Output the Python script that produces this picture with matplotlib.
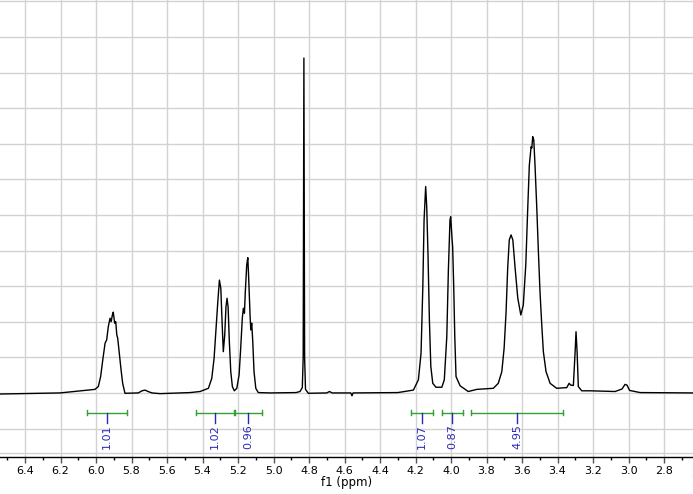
import numpy as np
import matplotlib
matplotlib.use("Agg")
import matplotlib.pyplot as plt
from matplotlib.ticker import MultipleLocator
from matplotlib.transforms import blended_transform_factory

# ---- data ----
ppm = [
    6.541, 6.203, 6.006, 5.987, 5.974, 5.962, 5.949, 5.940, 5.931, 5.921, 5.915,
    5.908, 5.903, 5.895, 5.889, 5.883, 5.878, 5.869, 5.859, 5.850, 5.837, 5.762,
    5.741, 5.724, 5.707, 5.685, 5.639,
    5.470, 5.414, 5.367, 5.348, 5.335, 5.324, 5.314, 5.305, 5.297, 5.290, 5.283,
    5.275, 5.268, 5.262, 5.256, 5.249, 5.241, 5.232, 5.221, 5.207, 5.194, 5.185,
    5.176, 5.170, 5.164, 5.159, 5.151, 5.145, 5.140, 5.132, 5.128, 5.123, 5.117,
    5.110, 5.100, 5.086, 5.020,
    4.873, 4.851, 4.838, 4.833, 4.829, 4.825, 4.820, 4.804,
    4.700, 4.685, 4.670, 4.565, 4.558, 4.552,
    4.300, 4.212, 4.184, 4.169, 4.159, 4.152, 4.143, 4.137, 4.130, 4.122, 4.114,
    4.103, 4.085, 4.052, 4.038, 4.024, 4.015, 4.006, 4.002, 3.994, 3.991, 3.985,
    3.979, 3.972, 3.949, 3.903, 3.855, 3.762, 3.734, 3.714, 3.701, 3.690, 3.681,
    3.672, 3.662, 3.652, 3.639, 3.624, 3.607, 3.593, 3.579, 3.568, 3.559, 3.549,
    3.545, 3.540, 3.534, 3.527, 3.517, 3.508, 3.499, 3.489, 3.480, 3.465, 3.442,
    3.405, 3.348, 3.335, 3.326, 3.311, 3.301, 3.296, 3.290, 3.283, 3.264, 3.217,
    3.076, 3.037, 3.020, 3.009, 2.994, 2.935, 2.637,
]
intensity = [
    -0.03, 0.00, 0.10, 0.18, 0.46, 0.93, 1.40, 1.49, 1.86, 2.10, 2.00,
    2.19, 2.27, 1.96, 2.00, 1.63, 1.54, 1.12, 0.65, 0.27, -0.01, 0.00,
    0.06, 0.08, 0.04, 0.00, -0.02,
    0.01, 0.04, 0.13, 0.41, 0.97, 1.82, 2.56, 3.17, 2.94, 2.00, 1.16,
    1.63, 2.42, 2.66, 2.42, 1.44, 0.60, 0.18, 0.06, 0.13, 0.51, 1.26,
    2.10, 2.38, 2.24, 2.85, 3.60, 3.80, 3.22, 2.14, 1.77, 1.96, 1.44,
    0.60, 0.13, 0.01, 0.00,
    0.01, 0.04, 0.15, 1.00, 9.41, 1.00, 0.10, -0.01,
    0.00, 0.04, 0.00, 0.00, -0.08, 0.00,
    0.01, 0.08, 0.37, 1.12, 2.99, 4.86, 5.80, 5.23, 3.92, 2.05, 0.74,
    0.27, 0.16, 0.16, 0.37, 1.58, 3.46, 4.86, 4.95, 4.30, 4.11, 2.99,
    1.58, 0.46, 0.20, 0.04, 0.10, 0.13, 0.27, 0.60, 1.26, 2.28, 3.50,
    4.30, 4.44, 4.30, 3.50, 2.66, 2.19, 2.47, 3.60, 5.19, 6.40, 6.92,
    6.88, 7.20, 7.11, 6.40, 5.19, 3.97, 2.85, 1.91, 1.16, 0.60, 0.27,
    0.13, 0.15, 0.27, 0.22, 0.21, 1.16, 1.72, 1.16, 0.18, 0.06, 0.06,
    0.04, 0.11, 0.24, 0.22, 0.07, 0.01, 0.00,
]

integral_start = [6.051, 5.435, 5.219, 4.228, 4.051, 3.887]
integral_end = [5.827, 5.224, 5.067, 4.101, 3.934, 3.369]
integral_labels = ["1.01", "1.02", "0.96", "1.07", "0.87", "4.95"]

tick_values = [6.4, 6.2, 6.0, 5.8, 5.6, 5.4, 5.2, 5.0, 4.8, 4.6, 4.4, 4.2,
               4.0, 3.8, 3.6, 3.4, 3.2, 3.0, 2.8]
tick_labels = ["6.4", "6.2", "6.0", "5.8", "5.6", "5.4", "5.2", "5.0", "4.8",
               "4.6", "4.4", "4.2", "4.0", "3.8", "3.6", "3.4", "3.2", "3.0", "2.8"]
x_label = "f1 (ppm)"

# ---- figure ----
fig = plt.figure(figsize=(6.93, 4.94), dpi=100)
ax = fig.add_axes([0, 37 / 494, 1, 457 / 494])
ax.set_xlim(6.541, 2.637)
ax.set_ylim(-1.80, 11.04)

grid_c = "#d2d2d2"
ax.set_yticks(np.arange(-1, 12, 1))
ax.tick_params(axis="y", left=False, labelleft=False)
ax.set_xticks(tick_values)
ax.set_xticklabels(tick_labels)
ax.xaxis.set_minor_locator(MultipleLocator(0.1))
ax.grid(True, which="major", color=grid_c, lw=1.0)
ax.set_axisbelow(True)
ax.axhline(-1.685, color=grid_c, lw=1.0, zorder=0.5)

for s in ["top", "left", "right"]:
    ax.spines[s].set_visible(False)
ax.spines["bottom"].set_color("black")
ax.spines["bottom"].set_linewidth(1.0)
ax.tick_params(axis="x", which="major", direction="out", length=4.3, width=1.0,
               color="#555555", labelsize=8, pad=2.5)
ax.tick_params(axis="x", which="minor", direction="out", length=2.5, width=1.0,
               color="black")
ax.set_xlabel(x_label, fontsize=8.5, labelpad=0)

# partial tick label at right edge
tr = blended_transform_factory(ax.transData, fig.transFigure)
ax.text(2.6, 21 / 494, "2.6", transform=tr, ha="center", va="center",
        fontsize=8, clip_on=False)

# spectrum
ax.plot(ppm, intensity, color="black", lw=1.0, zorder=3)

# integrals
green = "#35a035"
blue = "#2a2ab8"
bar_y = -0.553
cap = 0.08
for a, b, lab in zip(integral_start, integral_end, integral_labels):
    ax.plot([a, b], [bar_y, bar_y], color=green, lw=1.0, zorder=4)
    ax.plot([a, a], [bar_y - cap, bar_y + cap], color=green, lw=1.0, zorder=4)
    ax.plot([b, b], [bar_y - cap, bar_y + cap], color=green, lw=1.0, zorder=4)
    m = (a + b) / 2
    ax.plot([m, m], [bar_y, -0.84], color=blue, lw=1.0, zorder=4)
    ax.text(m, -0.87, lab, rotation=90, ha="center", va="top", fontsize=8,
            color=blue, zorder=5)

fig.savefig("out.png", dpi=100)
